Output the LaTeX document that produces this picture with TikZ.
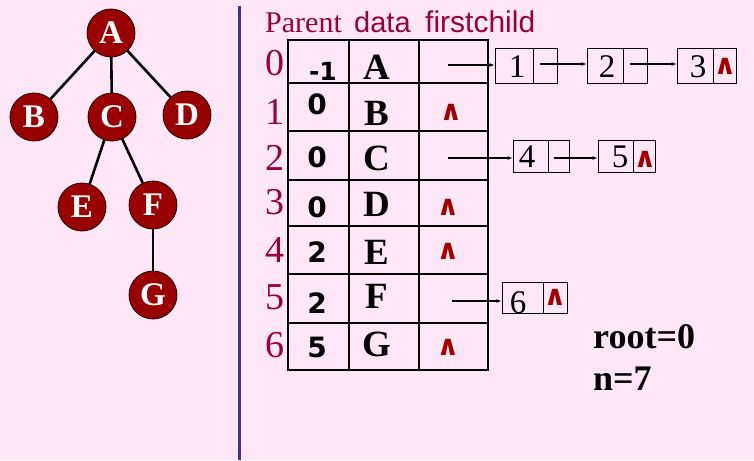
\documentclass[tikz,border=0pt]{standalone}
\usepackage{fontspec}
\setmainfont{Liberation Serif}
\newfontfamily\sansf{Liberation Sans}
\newfontfamily\dvf{DejaVu Sans}
\usetikzlibrary{arrows.meta,backgrounds}
\definecolor{bg}{HTML}{FDE7F6}
\definecolor{idx}{HTML}{990040}
\definecolor{nul}{HTML}{A00000}
\definecolor{circ}{HTML}{990000}
\definecolor{vline}{HTML}{3C3596}
\newcommand{\fs}[1]{\fontsize{#1}{#1}\selectfont}
\tikzset{
  tnode/.style={circle,fill=circ,draw=black!80!circ,line width=0.8pt,minimum size=48pt,inner sep=0pt,text=white,font=\fs{33}\bfseries},
  tedge/.style={line width=2.6pt},
  tbl/.style={line width=1.2pt},
  idxt/.style={inner sep=0pt,text=idx,font=\fs{38}},
  part/.style={inner sep=0pt,font=\dvf\bfseries\fs{28}},
  datat/.style={inner sep=0pt,font=\bfseries\fs{37}},
  nult/.style={inner sep=0pt,text=nul,font=\dvf\bfseries\fs{28}},
  cellbox/.style={draw,line width=0.9pt,inner sep=0pt},
  digt/.style={inner sep=0pt,font=\fs{33}},
  arr/.style={line width=1.3pt,-{Latex[length=5pt,width=4pt]}},
}
\begin{document}
\begin{tikzpicture}[x=1pt,y=-1pt]
\useasboundingbox (0,0) rectangle (754,460);
% divider
\draw[vline,line width=3pt] (239.5,6) -- (239.5,460);
% tree
\node[tnode] (A) at (111,33) {A};
\node[tnode] (B) at (34,117) {B};
\node[tnode] (C) at (112,117) {C};
\node[tnode] (D) at (187,115) {D};
\node[tnode] (E) at (82,207) {E};
\node[tnode] (F) at (153,205) {F};
\node[tnode] (G) at (153,295) {G};
\begin{scope}[on background layer]
\fill[bg] (0,0) rectangle (754,460);
\draw[tedge] (A.center) -- (B.center);
\draw[tedge] (A.center) -- (C.center);
\draw[tedge] (A.center) -- (D.center);
\draw[tedge] (C.center) -- (E.center);
\draw[tedge] (C.center) -- (F.center);
\draw[tedge] (F.center) -- (G.center);
\end{scope}
% header
\node[inner sep=0pt,anchor=base west,text=idx,font=\fs{30}] (hp) at (265,33) {Parent};
\node[inner sep=0pt,anchor=base west,text=idx,font=\sansf\fs{29}] (hd) at (354,33) {data};
\node[inner sep=0pt,anchor=base west,text=idx,font=\sansf\fs{30}] (hf) at (425,33) {firstchild};
% table
\draw[tbl] (288,40) rectangle (488,370);
\foreach \yy in {83,131,180,226,274,323} \draw[tbl] (288,\yy) -- (488,\yy);
\foreach \xx in {349,419} \draw[tbl] (\xx,40) -- (\xx,370);
% index
\node[idxt] (i0) at (275,63.5) {0};
\node[idxt] (i1) at (275,111.5) {1};
\node[idxt] (i2) at (275,158) {2};
\node[idxt] (i3) at (275,202) {3};
\node[idxt] (i4) at (275,250) {4};
\node[idxt] (i5) at (275,297) {5};
\node[idxt] (i6) at (275,345) {6};
% parent
\node[part,font=\dvf\bfseries\fs{25}] (p0) at (323,71.5) {-1};
\node[part] (p1) at (317,104) {0};
\node[part] (p2) at (317,157) {0};
\node[part] (p3) at (317,207.5) {0};
\node[part] (p4) at (317,252) {2};
\node[part] (p5) at (317,303) {2};
\node[part] (p6) at (317,347) {5};
% data
\node[datat] (d0) at (377,67) {A};
\node[datat] (d1) at (377,113) {B};
\node[datat] (d2) at (377,158) {C};
\node[datat] (d3) at (377,204) {D};
\node[datat] (d4) at (377,252) {E};
\node[datat] (d5) at (377,296) {F};
\node[datat] (d6) at (377,344) {G};
% null marks in table
\node[nult] (n1) at (451,112.5) {∧};
\node[nult] (n3) at (448,207) {∧};
\node[nult] (n4) at (448,251) {∧};
\node[nult] (n6) at (448,347) {∧};
% list boxes
\node[cellbox,minimum width=38pt,minimum height=35pt] (b1) at (514,65.5) {};
\node[cellbox,minimum width=24pt,minimum height=35pt] (q1) at (545,65.5) {};
\node[cellbox,minimum width=36pt,minimum height=35pt] (b2) at (605,65.5) {};
\node[cellbox,minimum width=24pt,minimum height=35pt] (q2) at (635,65.5) {};
\node[cellbox,minimum width=36pt,minimum height=35pt] (b3) at (695,65.5) {};
\node[cellbox,minimum width=23pt,minimum height=35pt] (q3) at (724.5,65.5) {};
\node[cellbox,minimum width=35pt,minimum height=32pt] (b4) at (530.5,156) {};
\node[cellbox,minimum width=21pt,minimum height=32pt] (q4) at (558.5,156) {};
\node[cellbox,minimum width=35pt,minimum height=32pt] (b5) at (615.5,156) {};
\node[cellbox,minimum width=22pt,minimum height=32pt] (q5) at (644,156) {};
\node[cellbox,minimum width=41pt,minimum height=31pt] (b6) at (522.5,297.5) {};
\node[cellbox,minimum width=24pt,minimum height=31pt] (q6) at (555,297.5) {};
\node[digt] (t1) at (517,67) {1};
\node[digt] (t2) at (607,67) {2};
\node[digt] (t3) at (698,67) {3};
\node[digt] (t4) at (527,157) {4};
\node[digt] (t5) at (620,157) {5};
\node[digt] (t6) at (518,303) {6};
\node[nult] (m3) at (725,66.5) {∧};
\node[nult] (m5) at (645,159.5) {∧};
\node[nult] (m6) at (555,297) {∧};
% arrows
\coordinate (s0) at (448,65);
\coordinate (s2) at (448,158);
\coordinate (s5) at (452,301);
\coordinate (r1) at (540,64);
\coordinate (r2) at (630,64);
\coordinate (r4) at (554,158);
\draw[arr] (s0) -- (s0 -| b1.west);
\draw[arr] (r1) -- (r1 -| b2.west);
\draw[arr] (r2) -- (r2 -| b3.west);
\draw[arr] (s2) -- (s2 -| b4.west);
\draw[arr] (r4) -- (r4 -| b5.west);
\draw[arr] (s5) -- (s5 -| b6.west);
% root, n
\node[inner sep=0pt,anchor=base west,font=\bfseries\fs{36}] (root) at (593,348) {root=0};
\node[inner sep=0pt,anchor=base west,font=\bfseries\fs{36}] (nn) at (593,390) {n=7};
\end{tikzpicture}
\end{document}
